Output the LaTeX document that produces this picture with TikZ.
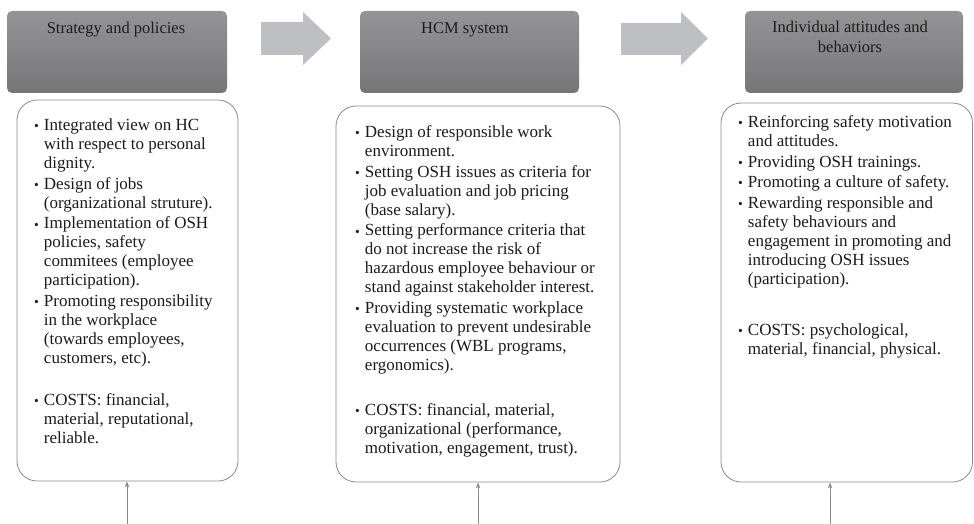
\documentclass[tikz,border=0pt]{standalone}
\usepackage{fontspec}
\setmainfont{Liberation Serif}
\usetikzlibrary{arrows.meta}

\definecolor{hdtop}{RGB}{148,148,150}
\definecolor{hdbot}{RGB}{118,118,120}
\definecolor{flow}{RGB}{190,191,194}
\definecolor{frame}{RGB}{138,138,138}
\definecolor{ink}{RGB}{28,28,28}

\tikzset{
  header/.style={rectangle, rounded corners=5pt, top color=hdtop, bottom color=hdbot,
    draw=none, inner sep=0, minimum width=#1, minimum height=82pt},
  panel/.style={rectangle, rounded corners=20pt, draw=frame, line width=0.8pt,
    fill=white, inner sep=0},
  headtext/.style={font=\fontsize{16.5}{20}\selectfont, text=ink, inner sep=0, anchor=base},
  listtext/.style={font=\fontsize{17}{19}\selectfont, text=ink, inner sep=0, anchor=base west},
  flowarrow/.style={fill=flow, draw=none},
  feed/.style={draw=frame, line width=0.8pt, -{Stealth[length=6pt,width=4.5pt]}},
}

% bullet rows; continuation rows leave the bullet column empty
\newcommand{\bul}{\scalebox{0.8}{\textbullet}}
\newenvironment{bullist}{\begin{tabular}[t]{@{}l@{\hspace{5pt}}l@{}}}{\end{tabular}}

\begin{document}
\begin{tikzpicture}[x=1pt, y=-1pt]
  \useasboundingbox (0,0) rectangle (974,524);

  % column headers
  \node[header=220pt] (h1) at (117,52) {};
  \node[header=219pt] (h2) at (469.5,52) {};
  \node[header=218pt] (h3) at (854,52) {};

  \node[headtext] (t1) at (116,34) {Strategy and policies};
  \node[headtext] (t2) at (465,34) {HCM system};
  \node[headtext] (t3) at (850,33)
    {\begin{tabular}[t]{@{}c@{}}Individual attitudes and\\behaviors\end{tabular}};

  % flow arrows between headers
  \path[flowarrow] (261,22) -- (303,22) -- (303,12) -- (331,38.5) -- (303,65)
    -- (303,55) -- (261,55) -- cycle;
  \path[flowarrow] (621,23) -- (681,23) -- (681,12) -- (708,38.5) -- (681,65)
    -- (681,55) -- (621,55) -- cycle;

  % content panels
  \node[panel, minimum width=221pt, minimum height=381pt] (p1) at (127.5,290.5) {};
  \node[panel, minimum width=284pt, minimum height=376pt] (p2) at (478,294) {};
  \node[panel, minimum width=251.5pt, minimum height=379pt] (p3) at (846.75,292.5) {};

  \node[listtext] (l1) at (34,131) {\begin{bullist}
    \bul & Integrated view on HC\\
         & with respect to personal\\
         & dignity.\\[1.5pt]
    \bul & Design of jobs\\
         & (organizational struture).\\[1.5pt]
    \bul & Implementation of OSH\\
         & policies, safety\\
         & commitees (employee\\
         & participation).\\[1.5pt]
    \bul & Promoting responsibility\\
         & in the workplace\\
         & (towards employees,\\
         & customers, etc).\\[23pt]
    \bul & COSTS: financial,\\
         & material, reputational,\\
         & reliable.
  \end{bullist}};

  \node[listtext] (l2) at (355,138) {\begin{bullist}
    \bul & Design of responsible work\\
         & environment.\\[1.5pt]
    \bul & Setting OSH issues as criteria for\\
         & job evaluation and job pricing\\
         & (base salary).\\[1.5pt]
    \bul & Setting performance criteria that\\
         & do not increase the risk of\\
         & hazardous employee behaviour or\\
         & stand against stakeholder interest.\\[1.5pt]
    \bul & Providing systematic workplace\\
         & evaluation to prevent undesirable\\
         & occurrences (WBL programs,\\
         & ergonomics).\\[26pt]
    \bul & COSTS: financial, material,\\
         & organizational (performance,\\
         & motivation, engagement, trust).
  \end{bullist}};

  \node[listtext] (l3) at (738,128) {\begin{bullist}
    \bul & Reinforcing safety motivation\\
         & and attitudes.\\[1.5pt]
    \bul & Providing OSH trainings.\\[1.5pt]
    \bul & Promoting a culture of safety.\\[1.5pt]
    \bul & Rewarding responsible and\\
         & safety behaviours and\\
         & engagement in promoting and\\
         & introducing OSH issues\\
         & (participation).\\[32pt]
    \bul & COSTS: psychological,\\
         & material, financial, physical.
  \end{bullist}};

  % feeds entering each panel from below
  \coordinate (f1) at (127,524);
  \coordinate (f2) at (478,524);
  \coordinate (f3) at (830,524);
  \draw[feed] (f1) -- (f1 |- p1.south);
  \draw[feed] (f2) -- (f2 |- p2.south);
  \draw[feed] (f3) -- (f3 |- p3.south);
\end{tikzpicture}
\end{document}
